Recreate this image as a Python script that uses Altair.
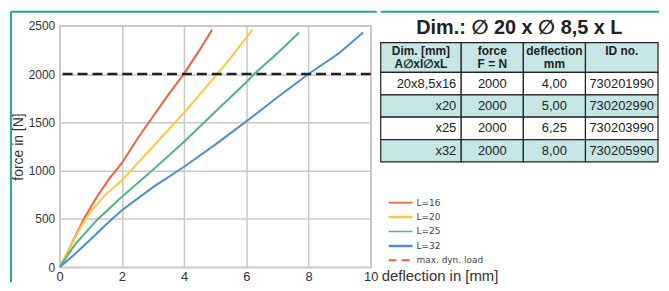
import altair as alt
import pandas as pd

# ---------------- data ----------------
series = ["L=16", "L=20", "L=25", "L=32"]
colors = ["#f4603c", "#ffc83a", "#4cb97a", "#4a90d9"]

defl_16 = [0, 0.2, 0.5, 0.78, 1.2, 1.6, 2.0, 2.5, 3.0, 3.5, 4.0, 4.5, 4.9]
force_16 = [0, 120, 320, 505, 730, 920, 1080, 1330, 1560, 1790, 2005, 2250, 2460]

defl_20 = [0, 0.3, 0.7, 1.0, 1.5, 2.0, 3.0, 4.0, 5.0, 5.5, 6.2]
force_20 = [0, 190, 430, 580, 760, 900, 1250, 1600, 1975, 2170, 2460]

defl_25 = [0, 0.5, 1.2, 2.0, 3.0, 4.0, 5.0, 6.0, 6.25, 7.0, 7.7]
force_25 = [0, 240, 490, 730, 1010, 1300, 1610, 1915, 2000, 2215, 2430]

defl_32 = [0, 0.5, 1.0, 1.5, 2.0, 3.0, 4.0, 5.0, 6.0, 7.0, 8.0, 9.0, 9.75]
force_32 = [0, 140, 290, 445, 590, 830, 1040, 1270, 1510, 1760, 2000, 2220, 2430]

max_load = 2000
x_ticks = [0, 2, 4, 6, 8, 10]
y_ticks = [0, 500, 1000, 1500, 2000, 2500]

title_text = "Dim.: \u2205 20 x \u2205 8,5 x L"
head_1 = ["Dim. [mm]", "force", "deflection", "ID no."]
head_2 = ["A\u2205xI\u2205xL", "F = N", "mm", ""]
dims = ["20x8,5x16", "x20", "x25", "x32"]
forces = ["2000", "2000", "2000", "2000"]
defls = ["4,00", "5,00", "6,25", "8,00"]
ids = ["730201990", "730202990", "730203990", "730205990"]

legend_labels = series + ["max. dyn. load"]

# ---------------- layout / style ----------------
FONT = "Liberation Sans, Arial, Helvetica, DejaVu Sans"
TEAL = "#1aaa9e"
CELL = "#c5e6e5"
W1, H1 = 313, 243
W2 = 280
col_edges = [0, 81, 143.5, 206, 279]
row_edges = [17, 47, 69.5, 92, 114.5, 137]

rows = []
for s, xs, ys in zip(series, [defl_16, defl_20, defl_25, defl_32],
                     [force_16, force_20, force_25, force_32]):
    for i, (a, b) in enumerate(zip(xs, ys)):
        rows.append({"series": s, "defl": a, "force": b, "i": i})
df = pd.DataFrame(rows)

x_scale = alt.Scale(domain=[0, 10], nice=False)
y_scale = alt.Scale(domain=[0, 2500], nice=False)

lines = alt.Chart(df).mark_line(strokeWidth=2, clip=True).encode(
    x=alt.X("defl:Q", scale=x_scale,
            axis=alt.Axis(values=x_ticks, title=None, labelFontSize=13, labelPadding=3,
                          labelFlush=False, ticks=False, domain=False, labelFont=FONT,
                          labelColor="#333", gridColor="#c8c8c8", gridWidth=1.5)),
    y=alt.Y("force:Q", scale=y_scale,
            axis=alt.Axis(values=y_ticks, format="d", title="force in [N]", titleX=-34,
                          titleY=H1 / 2, titleFontSize=14, titleFont=FONT,
                          titleFontWeight="normal", titleColor="#333", labelFontSize=12,
                          labelPadding=5, labelFont=FONT, labelColor="#333", ticks=False,
                          domain=False, gridColor="#c8c8c8", gridWidth=1.5)),
    color=alt.Color("series:N", scale=alt.Scale(domain=series, range=colors), legend=None),
    order="i:Q",
)

limit = alt.Chart(pd.DataFrame({"force": [max_load]})).mark_rule(
    strokeDash=[10, 5], strokeWidth=2.5, color="#222"
).encode(y=alt.Y("force:Q", scale=y_scale))

one = pd.DataFrame({"a": [0]})
frame_top_l = alt.Chart(one).mark_rule(color=TEAL, strokeWidth=2).encode(
    x=alt.value(-49), x2=alt.value(W1 + 6), y=alt.value(-14))
frame_left = alt.Chart(one).mark_rule(color=TEAL, strokeWidth=2).encode(
    x=alt.value(-49), y=alt.value(-14), y2=alt.value(H1 + 15))

left = alt.layer(lines, limit, frame_top_l, frame_left).properties(
    width=W1, height=H1,
    view=alt.ViewBackground(stroke="#c8c8c8", strokeWidth=1.5))

# ---------------- right panel: table + legend ----------------
frame_top_r = alt.Chart(one).mark_rule(color=TEAL, strokeWidth=2).encode(
    x=alt.value(0), x2=alt.value(W2), y=alt.value(-14))

title = alt.Chart(pd.DataFrame({"t": [title_text], "x": [(col_edges[0] + col_edges[-1]) / 2],
                                "y": [8]})).mark_text(
    font=FONT, fontSize=20, fontWeight="bold", color="#222", align="center",
    baseline="alphabetic").encode(
    x=alt.X("x:Q", scale=None), y=alt.Y("y:Q", scale=None), text="t:N")

cells = []
for r in range(5):
    for c in range(4):
        cells.append({"x0": col_edges[c], "x1": col_edges[c + 1],
                      "y0": row_edges[r], "y1": row_edges[r + 1],
                      "fill": CELL if r % 2 == 0 else "#ffffff"})
cell_df = pd.DataFrame(cells)
cell_rects = alt.Chart(cell_df).mark_rect(stroke="#222", strokeWidth=1.2).encode(
    x=alt.X("x0:Q", scale=None), x2="x1:Q",
    y=alt.Y("y0:Q", scale=None), y2="y1:Q",
    fill=alt.Fill("fill:N", scale=None))

hdr = []
for c in range(4):
    cx = (col_edges[c] + col_edges[c + 1]) / 2
    hdr.append({"t": head_1[c], "x": cx, "y": row_edges[0] + 12})
    if head_2[c]:
        hdr.append({"t": head_2[c], "x": cx, "y": row_edges[0] + 26})
header_text = alt.Chart(pd.DataFrame(hdr)).mark_text(
    font=FONT, fontSize=12, fontWeight="bold", color="#222", align="center",
    baseline="alphabetic").encode(
    x=alt.X("x:Q", scale=None), y=alt.Y("y:Q", scale=None), text="t:N")

body_c = []
body_r = []
for r in range(4):
    cy = (row_edges[r + 1] + row_edges[r + 2]) / 2
    body_r.append({"t": dims[r], "x": col_edges[1] - 5, "y": cy})
    for c, vals in zip([1, 2, 3], [forces, defls, ids]):
        body_c.append({"t": vals[r], "x": (col_edges[c] + col_edges[c + 1]) / 2, "y": cy})
body_center = alt.Chart(pd.DataFrame(body_c)).mark_text(
    font=FONT, fontSize=13, color="#222", align="center", baseline="middle").encode(
    x=alt.X("x:Q", scale=None), y=alt.Y("y:Q", scale=None), text="t:N")
body_right = alt.Chart(pd.DataFrame(body_r)).mark_text(
    font=FONT, fontSize=13, color="#222", align="right", baseline="middle").encode(
    x=alt.X("x:Q", scale=None), y=alt.Y("y:Q", scale=None), text="t:N")

leg = []
for k, lab in enumerate(legend_labels):
    leg.append({"label": lab, "y": 178 + 14.5 * k, "x0": 8, "x1": 32, "xt": 36,
                "dash": "dash" if k == 4 else "solid",
                "w": 2.0 if k == 4 else (2.5 if k % 2 == 1 else 1.6)})
leg_df = pd.DataFrame(leg)
leg_lines = alt.Chart(leg_df).mark_rule().encode(
    x=alt.X("x0:Q", scale=None), x2="x1:Q", y=alt.Y("y:Q", scale=None),
    color=alt.Color("label:N", scale=alt.Scale(domain=legend_labels, range=colors + ["#222"]),
                    legend=None),
    strokeDash=alt.StrokeDash("dash:N", scale=alt.Scale(domain=["solid", "dash"],
                                                        range=[[1, 0], [8, 5]]), legend=None),
    strokeWidth=alt.StrokeWidth("w:Q", scale=None))
leg_text = alt.Chart(leg_df).mark_text(
    font="DejaVu Sans", fontSize=9, color="#444", align="left", baseline="middle").encode(
    x=alt.X("xt:Q", scale=None), y=alt.Y("y:Q", scale=None), text="label:N")

xtitle = alt.Chart(pd.DataFrame({"t": ["deflection in [mm]"], "x": [1], "y": [257]})).mark_text(
    font=FONT, fontSize=15, color="#333", align="left", baseline="alphabetic").encode(
    x=alt.X("x:Q", scale=None), y=alt.Y("y:Q", scale=None), text="t:N")

right = alt.layer(frame_top_r, title, cell_rects, header_text, body_center, body_right,
                  leg_lines, leg_text, xtitle).properties(
    width=W2, height=H1, view=alt.ViewBackground(stroke="transparent"))

chart = alt.hconcat(left, right, spacing=0).properties(
    padding={"left": 1, "top": 1, "right": 0, "bottom": 0},
    background="#ffffff")

chart.save("out.html", embed_options={"renderer": "svg", "actions": False})
